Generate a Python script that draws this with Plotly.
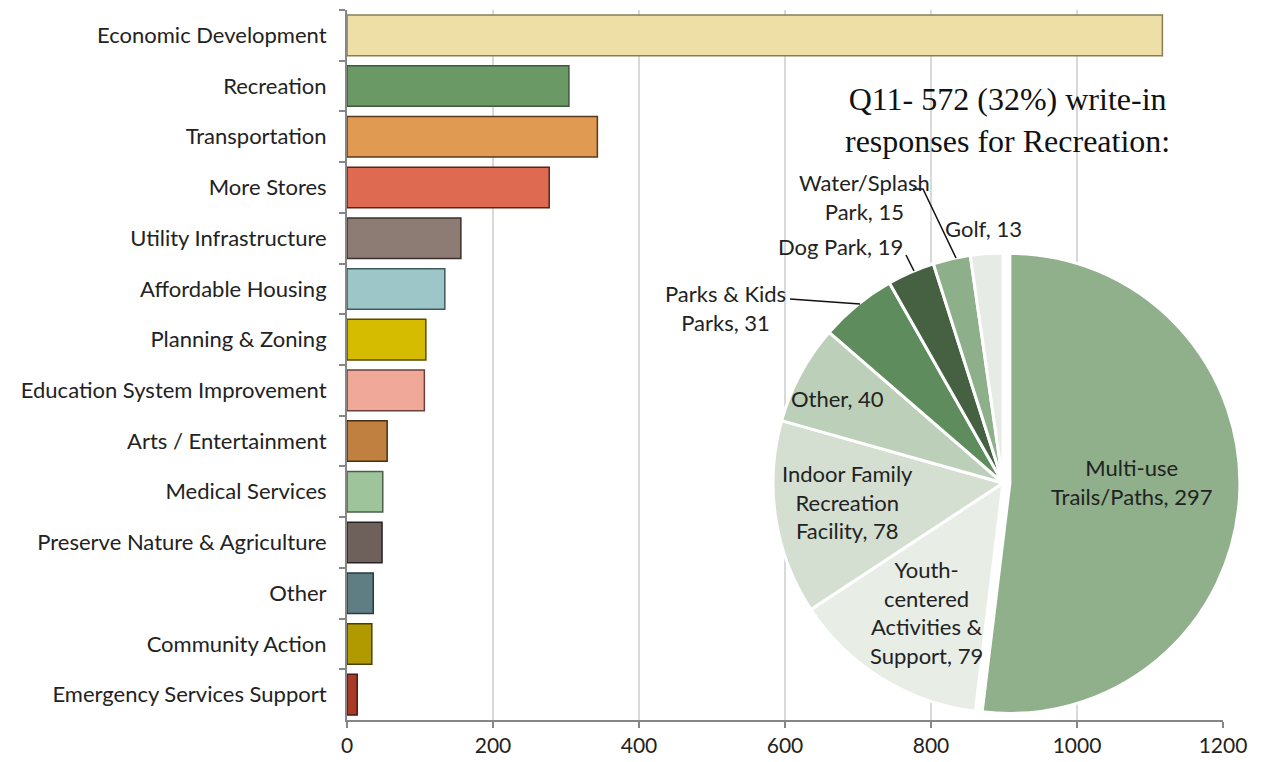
import plotly.graph_objects as go

# ---------------- data ----------------
categories = [
    "Economic Development", "Recreation", "Transportation", "More Stores",
    "Utility Infrastructure", "Affordable Housing", "Planning & Zoning",
    "Education System Improvement", "Arts / Entertainment", "Medical Services",
    "Preserve Nature & Agriculture", "Other", "Community Action",
    "Emergency Services Support",
]
counts = [1117, 304, 343, 277, 156, 134, 108, 106, 55, 49, 48, 36, 34, 14]
bar_colors = ["#eddfa6", "#6a9966", "#e09a52", "#df6a52", "#8c7c74", "#9cc6c8",
              "#d6bc00", "#f0a898", "#c08040", "#9ec49c", "#6e605a", "#5e7e84",
              "#b09a00", "#a83a26"]
bar_edges = ["#8a7d55", "#3c5a3a", "#5a3a18", "#5a2418", "#3a302c", "#3e5a5c",
             "#5a4c00", "#6a4038", "#4a2e10", "#4a6048", "#2a2220", "#2a3a3e",
             "#4a4000", "#4a1a10"]
x_ticks = [0, 200, 400, 600, 800, 1000, 1200]

pie_labels = ["Multi-use Trails/Paths", "Youth-centered Activities & Support",
              "Indoor Family Recreation Facility", "Other", "Parks & Kids Parks",
              "Dog Park", "Water/Splash Park", "Golf"]
pie_values = [297, 79, 78, 40, 31, 19, 15, 13]
pie_colors = ["#8fb08b", "#e8ede6", "#d4dfd2", "#bccfb9", "#5f8c5d",
              "#456142", "#8db08a", "#e6ebe5"]
pie_pull = [0.03, 0, 0, 0, 0, 0, 0, 0]
pie_text = ["Multi-use<br>Trails/Paths, 297", "Youth-<br>centered<br>Activities &<br>Support, 79",
            "Indoor Family<br>Recreation<br>Facility, 78", "Other, 40",
            "Parks & Kids<br>Parks, 31", "Dog Park, 19", "Water/Splash<br>Park, 15", "Golf, 13"]
title_text = "Q11- 572 (32%) write-in<br>responses for Recreation:"

# ---------------- layout geometry (reference pixels) ----------------
OFF = 8                      # page body margin
FW, FH = 1250, 754           # figure size
ML, MR, MT, MB = 347 - OFF, 0, 10 - OFF, FH - (732 - OFF)
PW, PH = FW - ML - MR, FH - MT - MB


def px(x):
    return (x - OFF - ML) / PW


def py(y):
    return (FH - MB - (y - OFF)) / PH


FONT = "Lato, Calibri, Carlito, sans-serif"

fig = go.Figure()
fig.add_trace(go.Bar(
    y=categories, x=counts, orientation="h", width=0.8,
    marker=dict(color=bar_colors, line=dict(color=bar_edges, width=1.5)),
    hoverinfo="x+y", showlegend=False,
))

# pie geometry
cx, cy, r = 1003, 483, 230
maxpull = max(pie_pull)
half = r * (1 + maxpull)
fig.add_trace(go.Pie(
    labels=pie_labels, values=pie_values, sort=False, direction="clockwise",
    rotation=0, pull=pie_pull, textinfo="none", showlegend=False,
    marker=dict(colors=pie_colors, line=dict(color="white", width=3)),
    domain=dict(x=[px(cx) - 250 / PW, px(cx) + 250 / PW],
                y=[py(cy) - half / PH, py(cy) + half / PH]),
))

fig.update_layout(
    width=FW, height=FH,
    margin=dict(l=ML, r=MR, t=MT, b=MB, autoexpand=False),
    paper_bgcolor="white", plot_bgcolor="white",
    bargap=0.2,
    xaxis=dict(domain=[0, px(1223)], range=[0, 1200], tickvals=x_ticks,
               showgrid=True, gridcolor="#d9d9d9", gridwidth=2,
               showline=True, linecolor="#868686", linewidth=2,
               ticks="outside", ticklen=6, tickcolor="#868686", tickwidth=2,
               zeroline=False, fixedrange=True,
               tickfont=dict(family=FONT, size=21, color="#222222")),
    yaxis=dict(domain=[py(720), 1], autorange="reversed",
               showline=True, linecolor="#868686", linewidth=2,
               ticks="outside", ticklen=6, tickcolor="#868686", tickwidth=2,
               tickson="boundaries", showgrid=False, ticklabelstandoff=14,
               tickfont=dict(family=FONT, size=22, color="#222222")),
    font=dict(family=FONT),
)

# title of the pie
fig.add_annotation(xref="paper", yref="paper", x=px(1007), y=py(120),
                   text=title_text, showarrow=False, align="center",
                   xanchor="center", yanchor="middle",
                   font=dict(family="Liberation Serif, Times New Roman, serif",
                             size=32, color="#111111"))

# pie labels
label_pos = [(1132, 482), (926, 612), (847, 502), (837, 398),
             (725, 308), (840, 247), (864, 197), (983, 228)]
for t, (lx, ly) in zip(pie_text, label_pos):
    fig.add_annotation(xref="paper", yref="paper", x=px(lx), y=py(ly),
                       text=t, showarrow=False, align="center",
                       xanchor="center", yanchor="middle",
                       font=dict(family=FONT, size=22, color="#222222"))

# leader lines
leaders = [
    [(790, 299), (860, 304)],
    [(906, 255), (914, 271)],
    [(913, 189), (923, 189), (956, 258)],
]
for pts in leaders:
    path = "M " + " L ".join(f"{px(a)},{py(b)}" for a, b in pts)
    fig.add_shape(type="path", xref="paper", yref="paper", path=path,
                  line=dict(color="#111111", width=1.5))

fig.write_html("out.html")
